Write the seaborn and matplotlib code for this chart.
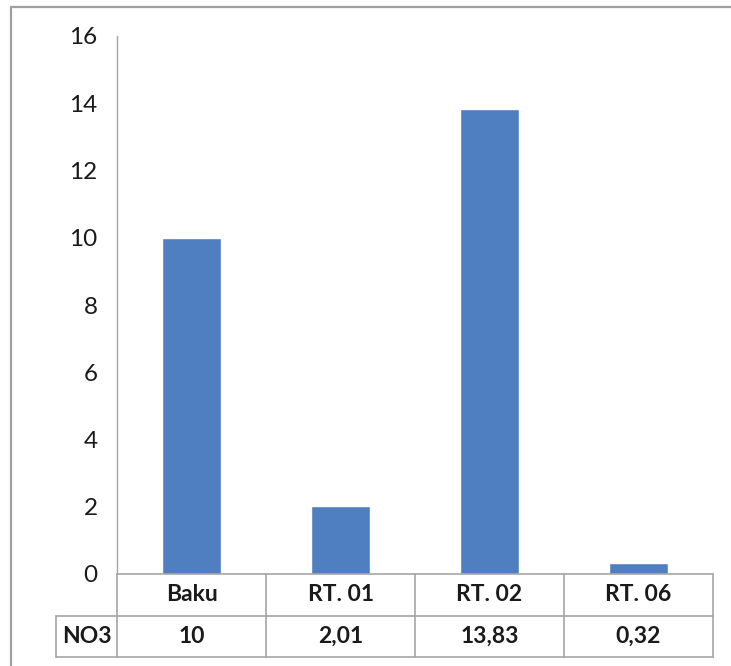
import matplotlib
matplotlib.use("Agg")
import matplotlib.pyplot as plt
from matplotlib.lines import Line2D
import seaborn as sns
import pandas as pd

# Nitrate (NO3) readings per sampling point
categories = ["Baku", "RT. 01", "RT. 02", "RT. 06"]
values = [10, 2.01, 13.83, 0.32]
value_labels = ["10", "2,01", "13,83", "0,32"]
series_name = "NO3"
y_ticks = [0, 2, 4, 6, 8, 10, 12, 14, 16]

sns.set_style("white")
plt.rcParams["font.family"] = ["Lato", "DejaVu Sans"]

BAR_COLOR = "#4F7EC1"
GRID_GRAY = "#A5A5A5"
TEXT_COLOR = "#1A1A1A"

W, H = 731, 666
fig = plt.figure(figsize=(W / 100, H / 100), dpi=100)
fig.patch.set_facecolor("white")

# plot area in pixel terms: x 117..713, y 36..574 (from top)
left, right, top, bottom = 117, 713, 36, 574
ax = fig.add_axes([left / W, 1 - bottom / H, (right - left) / W, (bottom - top) / H])

df = pd.DataFrame({"cat": categories, "val": values})
sns.barplot(data=df, x="cat", y="val", color=BAR_COLOR, width=0.4,
            saturation=1, ax=ax, order=categories)

ax.set_xlim(-0.5, len(categories) - 0.5)
ax.set_ylim(0, 16)
ax.set_yticks(y_ticks)
ax.set_yticklabels([str(t) for t in y_ticks], fontsize=17.5, color=TEXT_COLOR)
ax.tick_params(axis="y", length=0, pad=14)
ax.set_xticks([])
ax.set_xlabel("")
ax.set_ylabel("")
for side in ("top", "right", "bottom"):
    ax.spines[side].set_visible(False)
ax.spines["left"].set_color(GRID_GRAY)
ax.spines["left"].set_linewidth(1.0)

# data table under the bars
ax_h = bottom - top
row_h = 41.5 / ax_h
ax_w = right - left
hdr_left = (56 - left) / ax_w
trans = ax.transAxes
line_kw = dict(color=GRID_GRAY, lw=1.2, transform=trans, clip_on=False)

n = len(categories)
col_edges = [i / n for i in range(n + 1)]
# horizontal rules
ax.add_line(Line2D([0, 1], [0, 0], **line_kw))
ax.add_line(Line2D([hdr_left, 1], [-row_h, -row_h], **line_kw))
ax.add_line(Line2D([hdr_left, 1], [-2 * row_h, -2 * row_h], **line_kw))
# vertical rules
for xe in col_edges:
    ax.add_line(Line2D([xe, xe], [0, -2 * row_h], **line_kw))
ax.add_line(Line2D([hdr_left, hdr_left], [-row_h, -2 * row_h], **line_kw))

text_kw = dict(transform=trans, ha="center", va="center", fontsize=16.5,
               fontweight="bold", color=TEXT_COLOR, clip_on=False)
for i, (c, v) in enumerate(zip(categories, value_labels)):
    xc = (i + 0.5) / n
    ax.text(xc, -0.5 * row_h, c, **text_kw)
    ax.text(xc, -1.5 * row_h, v, **text_kw)
ax.text(hdr_left / 2, -1.5 * row_h, series_name, **text_kw)

# outer chart frame (top and left edges)
frame_kw = dict(color="#A0A0A0", lw=1.6, transform=fig.transFigure)
fig.add_artist(Line2D([10.5 / W, 1], [1 - 6.5 / H, 1 - 6.5 / H], **frame_kw))
fig.add_artist(Line2D([10.5 / W, 10.5 / W], [0, 1 - 6.5 / H], **frame_kw))

fig.savefig("out.png", dpi=100, facecolor="white")
